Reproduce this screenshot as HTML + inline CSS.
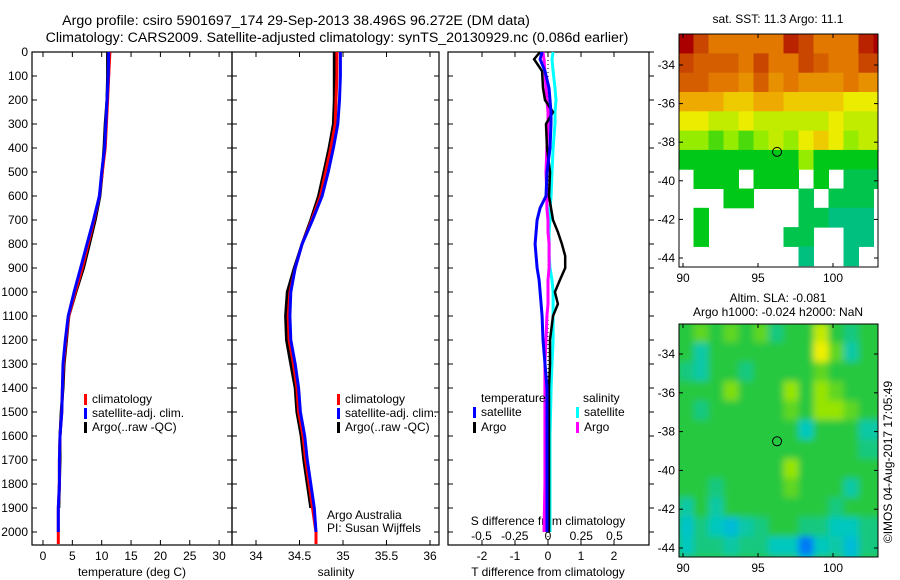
<!DOCTYPE html>
<html><head><meta charset="utf-8"><style>
html,body{margin:0;padding:0;background:#fff;}
svg{display:block;font-family:"Liberation Sans",sans-serif;}
</style></head><body>
<svg id="c" width="900" height="580" viewBox="0 0 900 580" xmlns="http://www.w3.org/2000/svg">
<defs><filter id="blur" x="-10%" y="-10%" width="120%" height="120%"><feGaussianBlur stdDeviation="3.5"/></filter></defs>
<text x="296" y="25" font-size="14.2" text-anchor="middle">Argo profile: csiro 5901697_174 29-Sep-2013 38.496S 96.272E (DM data)</text>
<text x="337" y="42" font-size="14.2" text-anchor="middle">Climatology: CARS2009. Satellite-adjusted climatology: synTS_20130929.nc (0.086d earlier)</text>
<text x="778" y="23" font-size="12" text-anchor="middle">sat. SST: 11.3 Argo: 11.1</text>
<text x="778" y="302" font-size="12" text-anchor="middle">Altim. SLA: -0.081</text>
<text x="778" y="316" font-size="12" text-anchor="middle">Argo h1000: -0.024 h2000: NaN</text>
<text transform="translate(892,462) rotate(-90)" font-size="12" text-anchor="middle">©IMOS 04-Aug-2017 17:05:49</text>
<text x="132" y="576" font-size="12" text-anchor="middle">temperature (deg C)</text>
<text x="336" y="576" font-size="12" text-anchor="middle">salinity</text>
<text x="548" y="576" font-size="12" text-anchor="middle">T difference from climatology</text>
<text x="548" y="525" font-size="12" text-anchor="middle">S difference from climatology</text>
<text x="327" y="519" font-size="12">Argo Australia</text>
<text x="327" y="532" font-size="12">PI: Susan Wijffels</text>
<g id="g"></g>
</svg>
<script>
// ---- data ----
const depths = [0,100,200,300,400,500,600,700,800,900,1000,1100,1200,1300,1400,1500,1600,1700,1800,1900,2000,2050];
const tempClim = [11.4,11.2,11.0,10.8,10.6,10.1,9.6,8.7,7.7,6.7,5.5,4.4,3.9,3.5,3.3,3.2,2.9,2.8,2.8,2.6,2.6,2.6];
const tempSat = [11.2,11.1,10.9,10.7,10.5,10.0,9.6,8.6,7.5,6.4,5.3,4.3,3.8,3.4,3.3,3.2,2.9,2.8,2.8,2.6,2.6];
const tempArgo = [11.0,11.0,10.9,10.6,10.4,10.1,9.7,8.9,7.9,6.9,5.6,4.4,4.0,3.6,3.4,3.1,2.9,2.9,2.8,2.7];
const salClim = [34.93,34.93,34.92,34.91,34.86,34.80,34.74,34.64,34.53,34.45,34.39,34.37,34.38,34.43,34.47,34.49,34.54,34.57,34.61,34.65,34.69,34.69];
const salSat = [34.97,34.97,34.96,34.94,34.89,34.83,34.76,34.65,34.53,34.45,34.40,34.39,34.40,34.45,34.49,34.51,34.56,34.59,34.63,34.67,34.69];
const salArgo = [34.90,34.90,34.90,34.89,34.84,34.78,34.72,34.63,34.53,34.44,34.36,34.34,34.35,34.40,34.45,34.47,34.52,34.55,34.59,34.63];
const diffDepths = [0,30,80,150,200,250,300,400,500,600,650,700,750,800,850,900,950,1000,1050,1100,1200,1300,1400,1600,1800,2000];
const tDiffArgo = [-0.24,-0.42,-0.18,-0.15,-0.09,0.15,-0.06,-0.03,0.06,0.03,0.09,0.15,0.3,0.42,0.52,0.52,0.36,0.21,0.3,0.15,0.06,0.06,0.03,0.03,0.03,0.03];
const tDiffSat = [-0.18,-0.24,-0.09,0.03,0.06,0.09,0.09,0.06,-0.03,-0.06,-0.24,-0.33,-0.36,-0.39,-0.36,-0.33,-0.27,-0.24,-0.21,-0.18,-0.15,-0.09,-0.03,-0.03,-0.03,-0.03];
const sDiffSat = [0.038,0.03,0.038,0.053,0.06,0.053,0.053,0.038,0.03,0.023,0.015,0.015,0.008,0.008,0.008,0.015,0.03,0.038,0.038,0.038,0.038,0.03,0.023,0.015,0.015,0.015];
const sDiffArgo = [-0.038,-0.03,-0.023,-0.015,-0.008,0,0,-0.008,-0.015,-0.008,-0.008,0,0,0.008,0.008,0.008,0,0,0,-0.008,-0.015,-0.023,-0.023,-0.023,-0.023,-0.03];
const depthTicks = [0,100,200,300,400,500,600,700,800,900,1000,1100,1200,1300,1400,1500,1600,1700,1800,1900,2000];
const tempTicks = [0,5,10,15,20,25,30];
const salTicks = [34,34.5,35,35.5,36];
const tDiffTicks = [-2,-1,0,1,2];
const sDiffTicks = ["-0.5","-0.25","0","0.25","0.5"];
const sstGrid = [
[17,16,15,15,15,15,15,16.5,16,15,15,15,16.5,17],
[16,15.5,15.5,15.5,15,16,15,15,16,15.5,15,15,16,16],
[15.5,15.5,15,15,14.5,15.5,14.5,15,14.5,14.5,14.5,15,14.5,14.5],
[14,14,14,13.5,13.5,14,14,13.5,13.5,13.5,13.5,13,13,13],
[13,13,12.5,12.5,13,12.5,12.5,12.5,12.5,12.5,13,12.5,12.5,12.5],
[12,12,11.5,12,11.5,12,12.5,12,13,13.5,13,12,12.5,12.5],
[11,11,11,11,11,11,11,11,12,11,11,11,11,11],
[null,11,11,11,null,11,11,11,null,11,null,10.5,10.5,10.5],
[null,null,null,11,11,null,null,null,10.5,null,10.5,10.5,10.5,null],
[null,11,null,null,null,null,null,null,10.5,10.5,10,10,10,null],
[null,11,null,null,null,null,null,10.5,10.5,null,null,10,10,null],
[null,null,null,null,null,null,null,null,10,null,null,10,null,null]];
const slaGrid = [
[0,0.05,0,0.05,0,0.05,-0.05,0,0,0.15,0,-0.05,0,0],
[0,-0.08,0,0,0,0,0,0,0,0.2,0.05,-0.08,0,0],
[-0.05,-0.08,0,0,-0.05,0,0,0,0,0.05,0,0,0,0],
[0,0,0,0.08,0,0,0,0.1,0,0.1,0.05,0,0,0],
[0,-0.05,0,0,0,0,0,0.05,0,0.1,0.1,0.05,0,0],
[0,0,0,0,0,0,0,0,-0.1,0,0,0,-0.08,-0.08],
[0,0,0,0,0,0,0,0,0,0,0,0,-0.05,-0.05],
[0,0,0,0,0,0,0,0.1,0,0,0,0,0,0],
[0,0,-0.05,0,0,0,0,0.05,0,0,0,-0.08,0,0],
[-0.08,0,-0.08,0,0,0,0,0,0,0,-0.05,0,0,0],
[-0.12,-0.05,-0.1,-0.15,-0.08,-0.05,0,0,-0.05,-0.05,-0.1,-0.1,-0.05,-0.05],
[-0.1,-0.05,-0.05,-0.08,-0.05,-0.05,-0.1,-0.1,-0.25,-0.1,-0.08,-0.15,-0.05,-0.05],
[0,0,0,0,0,0,0,0,-0.1,0,0,-0.1,0,0]];
const lonTicks = [90,95,100];
const latTicks = [-34,-36,-38,-40,-42,-44];
const argoLon = 96.27, argoLat = -38.5;

// ---- scales ----
const yD = d => 52 + d * 0.24;
const xT = t => 43 + t * 5.87;
const xS = s => 256 + (s - 34) * 87;
const xTd = t => 548 + t * 33;
const xSd = s => 548 + s * 133;
const lonX = lon => 683 + (lon - 90) * 15;
const lat1Y = lat => 65 + (-34 - lat) * 19.3;
const lat2Y = lat => 354 + (-34 - lat) * 19.4;

const NS = "http://www.w3.org/2000/svg";
const g = document.getElementById('g');
function mk(tag, attrs, parent) {
  const e = document.createElementNS(NS, tag);
  for (const k in attrs) e.setAttribute(k, attrs[k]);
  (parent || g).appendChild(e);
  return e;
}
function txt(x, y, s, anchor, size, parent) {
  const t = mk('text', {x: x, y: y, 'font-size': size || 12, 'text-anchor': anchor || 'middle'}, parent);
  t.textContent = s;
  return t;
}
function line(xs, ys, color, w, name) {
  let pts = xs.map((x, i) => x.toFixed(1) + ',' + ys[i].toFixed(1)).join(' ');
  const p = mk('polyline', {points: pts, fill: 'none', stroke: color, 'stroke-width': w});
  
  
  return p;
}

// ---- profile panels ----
function panel(x0, x1, name, leftTicks, rightOutTicks) {
  const r = mk('rect', {x: x0, y: 52, width: x1 - x0, height: 493, fill: 'none', stroke: '#000', 'stroke-width': 1.2});
  
  
  depthTicks.forEach(d => {
    const y = yD(d);
    mk('line', {x1: x0, y1: y, x2: x0 + 5, y2: y, stroke: '#000'});
    if (rightOutTicks) mk('line', {x1: x1, y1: y, x2: x1 + 5, y2: y, stroke: '#000'});
    else mk('line', {x1: x1 - 5, y1: y, x2: x1, y2: y, stroke: '#000'});
    if (leftTicks) {
      const t = txt(28, y + 4, String(d), 'end', 12);
      
      
    }
  });
}
panel(32, 232, 'temperature-panel', true, false);
panel(232, 439, 'salinity-panel', false, false);
panel(448, 649, 'difference-panel', false, true);

function xticks(vals, f, labels) {
  vals.forEach((v, i) => {
    const x = f(v);
    mk('line', {x1: x, y1: 545, x2: x, y2: 540, stroke: '#000'});
    mk('line', {x1: x, y1: 52, x2: x, y2: 57, stroke: '#000'});
    const t = txt(x, 560, labels ? labels[i] : String(v), 'middle', 12);
    
    
  });
}
xticks(tempTicks, xT);
xticks(salTicks, xS);
xticks(tDiffTicks, xTd);
sDiffTicks.forEach(s => {
  const t = txt(xSd(parseFloat(s)), 540, s, 'middle', 12);
  
  
});

// temperature
line(tempArgo.map(xT), depths.slice(0, tempArgo.length).map(yD), '#000', 3, 'temp-argo-line');
line(tempClim.map(xT), depths.slice(0, tempClim.length).map(yD), '#f00', 3, 'temp-climatology-line');
line(tempSat.map(xT), depths.slice(0, tempSat.length).map(yD), '#00f', 3, 'temp-satellite-line');
// salinity
line(salArgo.map(xS), depths.slice(0, salArgo.length).map(yD), '#000', 3, 'sal-argo-line');
line(salClim.map(xS), depths.slice(0, salClim.length).map(yD), '#f00', 3, 'sal-climatology-line');
line(salSat.map(xS), depths.slice(0, salSat.length).map(yD), '#00f', 3, 'sal-satellite-line');
// differences
const z = mk('line', {x1: xTd(0), y1: yD(0), x2: xTd(0), y2: yD(2050), stroke: '#000', 'stroke-dasharray': '1,3'});


line(sDiffSat.map(xSd), diffDepths.map(yD), '#0ff', 3, 's-diff-satellite-line');
line(sDiffArgo.map(xSd), diffDepths.map(yD), '#f0f', 3, 's-diff-argo-line');
line(tDiffArgo.map(xTd), diffDepths.map(yD), '#000', 2.5, 't-diff-argo-line');
line(tDiffSat.map(xTd), diffDepths.map(yD), '#00f', 3, 't-diff-satellite-line');

// legends
function legend(x, y, color, label, name) {
  const r = mk('rect', {x: x, y: y - 9, width: 3, height: 11, fill: color});
  
  
  const t = txt(x + 8, y, label, 'start', 12);
  
  
}
[[84,403,'#f00','climatology'],[84,417,'#00f','satellite-adj. clim.'],[84,431,'#000','Argo(..raw -QC)']].forEach(a => legend(a[0], a[1], a[2], a[3], 'temp-legend-entry'));
[[337,403,'#f00','climatology'],[337,417,'#00f','satellite-adj. clim.'],[337,431,'#000','Argo(..raw -QC)']].forEach(a => legend(a[0], a[1], a[2], a[3], 'sal-legend-entry'));
txt(481, 402, 'temperature', 'start', 12);
txt(583, 402, 'salinity', 'start', 12);
legend(473, 416, '#00f', 'satellite', 'diff-legend-entry');
legend(473, 431, '#000', 'Argo', 'diff-legend-entry');
legend(576, 416, '#0ff', 'satellite', 'diff-legend-entry');
legend(576, 431, '#f0f', 'Argo', 'diff-legend-entry');

// ---- maps ----
function sstColor(v) {
  const stops = [[10,[0,192,128]],[11,[0,200,24]],[12,[150,236,0]],[13,[236,236,0]],[14,[238,170,0]],[15,[226,120,0]],[16,[200,70,0]],[17,[170,0,0]]];
  return interp(stops, v);
}
function slaColor(v) {
  const stops = [[-0.3,[0,64,255]],[-0.2,[0,176,240]],[-0.1,[0,200,190]],[0,[40,200,64]],[0.1,[150,228,0]],[0.2,[240,240,0]]];
  return interp(stops, v);
}
function interp(stops, v) {
  if (v <= stops[0][0]) return 'rgb(' + stops[0][1] + ')';
  for (let i = 1; i < stops.length; i++) {
    if (v <= stops[i][0]) {
      const f = (v - stops[i-1][0]) / (stops[i][0] - stops[i-1][0]);
      const c = stops[i-1][1].map((a, k) => Math.round(a + (stops[i][1][k] - a) * f));
      return 'rgb(' + c + ')';
    }
  }
  return 'rgb(' + stops[stops.length-1][1] + ')';
}
function map(grid, colorF, latY, top, bottom, name, smooth) {
  const mg = mk('g', {});
  
  
  mk('clipPath', {id: name + '-clip'}, mg);
  const cp = mg.lastChild;
  mk('rect', {x: 679, y: top, width: 199, height: bottom - top}, cp);
  const outer = mk('g', {'clip-path': 'url(#' + name + '-clip)'}, mg);
  if (smooth) mk('rect', {x: 670, y: top - 10, width: 220, height: bottom - top + 20, fill: colorF(0)}, outer);
  const cells = mk('g', smooth ? {filter: 'url(#blur)'} : {}, outer);
  grid.forEach((row, i) => row.forEach((v, j) => {
    if (v === null) return;
    const la0 = -32.4 - i, la1 = la0 - 1;
    const x0 = lonX(89.7 + j), x1 = lonX(90.7 + j);
    const c = mk('rect', {x: x0, y: latY(la0), width: x1 - x0 + 0.5, height: latY(la1) - latY(la0) + 0.5, fill: colorF(v)}, cells);
    
    
  }));
  mk('rect', {x: 679, y: top, width: 199, height: bottom - top, fill: 'none', stroke: '#000'}, mg);
  lonTicks.forEach(l => {
    const x = lonX(l);
    mk('line', {x1: x, y1: bottom, x2: x, y2: bottom - 4, stroke: '#000'}, mg);
    mk('line', {x1: x, y1: top, x2: x, y2: top + 4, stroke: '#000'}, mg);
    const t = txt(x, bottom + 15, String(l), 'middle', 12, mg);
    
  });
  latTicks.forEach(l => {
    const y = latY(l);
    mk('line', {x1: 679, y1: y, x2: 683, y2: y, stroke: '#000'}, mg);
    mk('line', {x1: 874, y1: y, x2: 878, y2: y, stroke: '#000'}, mg);
    const t = txt(675, y + 4, String(l), 'end', 12, mg);
    
  });
  const c = mk('circle', {cx: lonX(argoLon), cy: latY(argoLat), r: 4.5, fill: 'none', stroke: '#000'}, mg);
  
  
}
map(sstGrid, sstColor, lat1Y, 34, 267, 'sst-map', false);
map(slaGrid, slaColor, lat2Y, 324, 557, 'sla-map', true);
</script>
</body></html>
